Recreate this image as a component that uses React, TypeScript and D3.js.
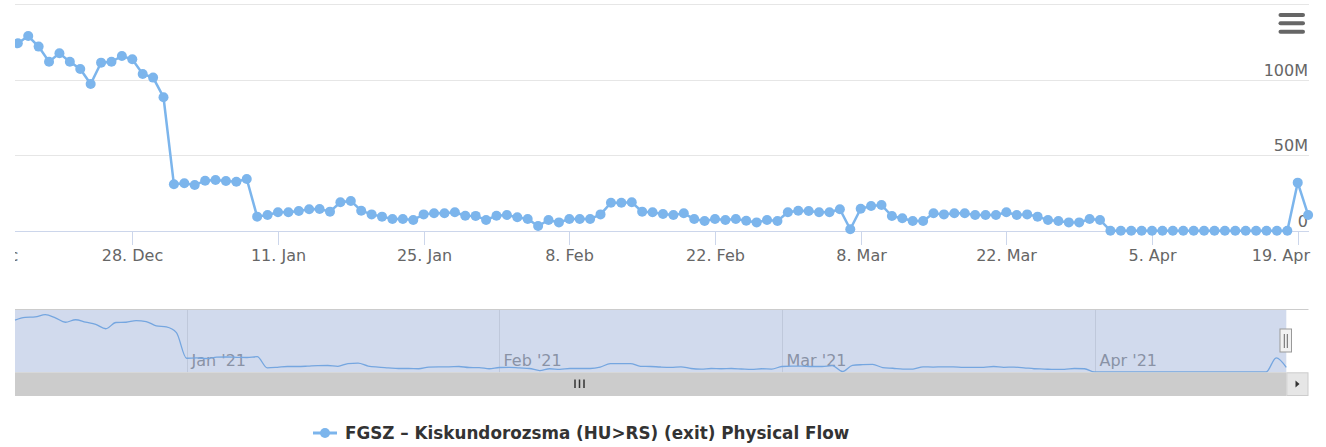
import React from "react";
import * as d3 from "d3";

// daily physical flow, millions (kWh/d), starting 15 Dec 2020
const startDay = "2020-12-15";
const flowValues = [
  117, 123,
  124.2, 129.0, 122.0, 112.0, 117.6, 112.0, 107.2, 97.3, 111.4, 112.0, 115.8, 113.6, 103.9, 101.5, 88.5,
  30.9, 31.6, 30.4, 33.3, 33.8, 33.1, 32.6, 34.4, 9.5, 10.6, 12.4, 12.4, 13.2, 14.4, 14.6, 12.8, 19.0, 19.9,
  13.4, 11.0, 9.5, 7.9, 7.9, 7.3, 11.0, 11.7, 11.7, 12.4, 10.1, 10.0, 7.3,
  10.1, 10.6, 9.1, 7.9, 3.3, 7.3, 5.7, 7.9, 7.9, 7.9, 11.0, 18.7, 18.7, 19.0, 12.8, 12.4, 11.2, 10.6, 11.7,
  7.9, 6.6, 7.9, 7.3, 7.9, 6.8, 5.7, 7.3, 6.6,
  12.4, 13.4, 13.2, 12.4, 12.4, 14.4, 1.1, 14.7, 16.5, 17.2, 9.9, 8.4, 6.6, 6.6, 11.7, 11.0, 11.7, 11.7,
  10.6, 10.6, 10.6, 12.4, 10.6, 11.0, 9.5, 7.3, 6.6, 5.7, 5.7, 7.9, 7.3,
  0.2, 0.2, 0.2, 0.2, 0.2, 0.2, 0.2, 0.2, 0.2, 0.2, 0.2, 0.2, 0.2, 0.2, 0.2, 0.2, 0.2, 0.2, 32.0, 10.6,
];

const xTickDates = [
  "2020-12-14", "2020-12-28", "2021-01-11", "2021-01-25", "2021-02-08",
  "2021-02-22", "2021-03-08", "2021-03-22", "2021-04-05", "2021-04-19",
];
const yTickValues = [0, 50, 100, 150];
const seriesName = "FGSZ – Kiskundorozsma (HU>RS) (exit) Physical Flow";

const width = 1326;
const height = 447;
const plot = { left: 15, right: 1309, top: 4.3, bottom: 231 };
const nav = { left: 15, right: 1286.3, top: 309, bottom: 372.3, scrollBottom: 396, end: 1308.5 };
const color = "#7cb5ec";
const font = "'DejaVu Sans', sans-serif";

const parse = d3.utcParse("%Y-%m-%d");
const start = parse(startDay) as Date;
const data = flowValues.map((v, i) => ({ date: d3.utcDay.offset(start, i), value: v }));

const App = () => {
  const xScale = d3
    .scaleUtc()
    .domain([new Date(Date.UTC(2020, 11, 16, 17, 30)), new Date(Date.UTC(2021, 3, 20, 2))])
    .range([plot.left, plot.right]);
  const yScale = d3.scaleLinear().domain([0, 150]).range([plot.bottom, plot.top]);

  const navX = d3
    .scaleUtc()
    .domain([data[0].date, data[data.length - 1].date])
    .range([nav.left, nav.right]);
  const navY = d3.scaleLinear().domain([0, 141.8]).range([372, nav.top]);

  const line = d3
    .line<{ date: Date; value: number }>()
    .x((d) => xScale(d.date))
    .y((d) => yScale(d.value));

  const navLine = d3
    .line<{ date: Date; value: number }>()
    .x((d) => navX(d.date))
    .y((d) => navY(d.value))
    .curve(d3.curveMonotoneX);

  const fmtDay = d3.utcFormat("%-d. %b");
  const fmtMonth = d3.utcFormat("%b '%y");
  const months = d3.utcMonth.range(navX.domain()[0], navX.domain()[1]);

  return (
    <svg
      width={width}
      height={height}
      style={{ position: "absolute", left: 0, top: 0, background: "#fff" }}
      fontFamily={font}
    >
      <defs>
        <clipPath id="seriesClip">
          <rect x={plot.left} y={-20} width={width - plot.left} height={290} />
        </clipPath>
        <clipPath id="chartClip">
          <rect x={plot.left} y={0} width={width - plot.left} height={height} />
        </clipPath>
      </defs>

      {/* grid */}
      {yTickValues.slice(1).map((t) => (
        <line
          key={t}
          x1={plot.left}
          x2={plot.right}
          y1={Math.round(yScale(t)) + 0.5}
          y2={Math.round(yScale(t)) + 0.5}
          stroke="#e6e6e6"
        />
      ))}

      {/* x axis */}
      <g clipPath="url(#chartClip)">
        <line x1={plot.left} x2={plot.right} y1={231.5} y2={231.5} stroke="#ccd6eb" />
        {xTickDates.map((s, i) => {
          const x = Math.round(xScale(parse(s) as Date)) + 0.5;
          // the last label is pushed inside the chart, as the original does
          const last = i === xTickDates.length - 1;
          return (
            <g key={s}>
              <line x1={x} x2={x} y1={231} y2={245} stroke="#ccd6eb" />
              <text
                x={last ? 1310 : x}
                y={261}
                textAnchor={last ? "end" : "middle"}
                fontSize={16}
                fill="#666"
              >
                {fmtDay(parse(s) as Date)}
              </text>
            </g>
          );
        })}
      </g>

      {/* y labels */}
      {yTickValues.slice(0, 3).map((t) => (
        <text key={t} x={1308} y={yScale(t) - 4} textAnchor="end" fontSize={16} fill="#666">
          {t === 0 ? "0" : `${t}M`}
        </text>
      ))}

      {/* series */}
      <g clipPath="url(#seriesClip)">
        <path d={line(data) ?? ""} fill="none" stroke={color} strokeWidth={2.5} />
        {data.map((d, i) => (
          <circle key={i} cx={xScale(d.date)} cy={yScale(d.value)} r={5} fill={color} />
        ))}
      </g>

      {/* menu button */}
      {[15, 23.3, 31.7].map((y) => (
        <line key={y} x1={1280.5} x2={1303} y1={y} y2={y} stroke="#666" strokeWidth={4} strokeLinecap="round" />
      ))}

      {/* navigator */}
      <g>
        {months.map((m) => {
          const x = Math.round(navX(m)) + 0.5;
          return (
            <g key={+m}>
              <line x1={x} x2={x} y1={nav.top} y2={nav.bottom} stroke="#e6e6e6" />
              <text x={x + 4} y={365.5} fontSize={16} fill="#999">
                {fmtMonth(m)}
              </text>
            </g>
          );
        })}
        <path d={navLine(data) ?? ""} fill="none" stroke={color} strokeWidth={1.3} />
        <rect
          x={nav.left}
          y={nav.top}
          width={nav.right - nav.left}
          height={nav.bottom - nav.top}
          fill="rgba(102,133,194,0.3)"
        />
        <line x1={nav.left} x2={nav.end} y1={nav.top + 0.5} y2={nav.top + 0.5} stroke="#cccccc" />

        {/* scrollbar */}
        <rect x={nav.left} y={nav.bottom} width={nav.right - nav.left} height={nav.scrollBottom - nav.bottom} fill="#cccccc" />
        <rect
          x={nav.right + 0.5}
          y={nav.bottom + 0.5}
          width={nav.end - nav.right - 1}
          height={nav.scrollBottom - nav.bottom - 1}
          fill="#e6e6e6"
          stroke="#cccccc"
        />
        <path d="M1295.5,380.5 L1295.5,387.5 L1299.5,384 Z" fill="#333" />
        {[575, 579.5, 584].map((x) => (
          <line key={x} x1={x} x2={x} y1={379.5} y2={388} stroke="#333" strokeWidth={1.5} />
        ))}

        {/* right handle */}
        <rect x={1280} y={329} width={11.5} height={23} fill="#f2f2f2" stroke="#999" />
        {[1284.3, 1287.3].map((x) => (
          <line key={x} x1={x} x2={x} y1={334} y2={348} stroke="#666" />
        ))}
      </g>

      {/* legend */}
      <g transform="translate(0, 433)">
        <line x1={313} x2={337} y1={0} y2={0} stroke={color} strokeWidth={3} />
        <circle cx={325} cy={0} r={5} fill={color} />
        <text x={345} y={6} fontSize={16.8} fontWeight="bold" fill="#333">
          {seriesName}
        </text>
      </g>
    </svg>
  );
};

export default App;
